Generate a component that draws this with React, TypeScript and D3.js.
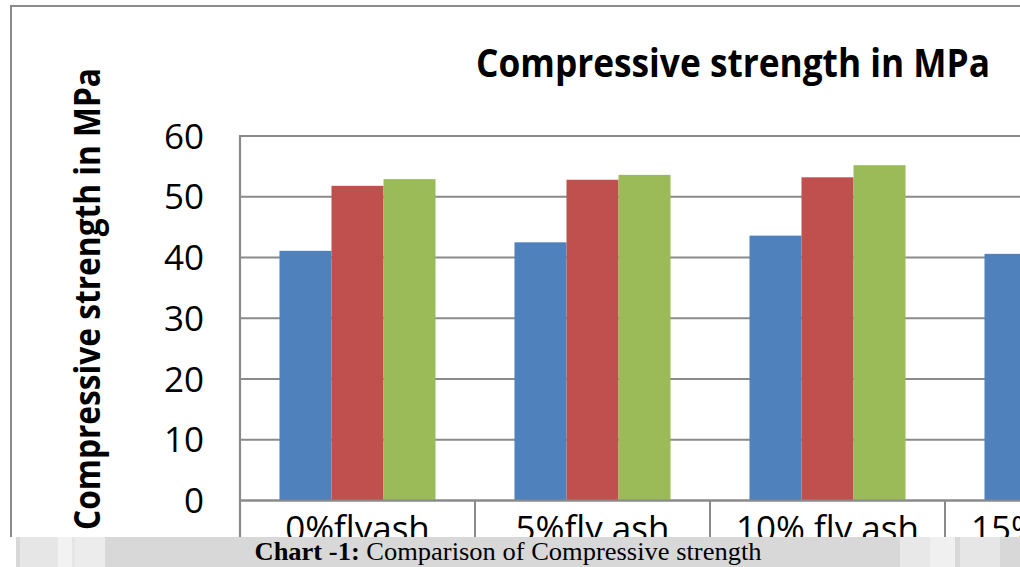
import React from "react";
import * as d3 from "d3";

const categories = ["0%flyash", "5%fly ash", "10% fly ash", "15% fly ash"];
const seriesNames = ["7 days", "14 days", "28 days"];
const series7 = [41.1, 42.5, 43.6, 40.6];
const series14 = [51.8, 52.8, 53.2, 51.0];
const series28 = [52.9, 53.6, 55.2, 52.5];
const yTicks = [0, 10, 20, 30, 40, 50, 60];
const colors = ["#4F81BD", "#C0504D", "#9BBB59"];

const W = 1020;
const H = 567;

export default function App() {
  const seriesValues = [series7, series14, series28];
  const x0 = d3.scaleBand<string>().domain(categories).range([240, 1180]);
  const bw = x0.bandwidth();
  const gw = bw * 0.664;
  const x1 = d3
    .scaleBand<string>()
    .domain(seriesNames)
    .range([(bw - gw) / 2, (bw + gw) / 2]);
  const y = d3.scaleLinear().domain([0, 60]).range([500.5, 136]);
  const grid = "#8a8a8a";
  const sans = "'Open Sans', 'DejaVu Sans', sans-serif";

  return (
    <svg
      width={W}
      height={H}
      style={{ position: "absolute", left: 0, top: 0, display: "block", background: "#fff" }}
    >
      <rect x={0} y={0} width={W} height={H} fill="#fff" />
      {/* outer chart border */}
      <rect x={11} y={6} width={1100} height={560} fill="none" stroke={grid} strokeWidth={2} />
      {/* title */}
      <text
        x={733}
        y={77}
        textAnchor="middle"
        fontFamily={sans}
        fontWeight="bold"
        fontSize={39}
        textLength={514}
        lengthAdjust="spacingAndGlyphs"
        fill="#000"
      >
        Compressive strength in MPa
      </text>
      {/* y axis title */}
      <text
        transform={`translate(100,299) rotate(-90)`}
        textAnchor="middle"
        fontFamily={sans}
        fontWeight="bold"
        fontSize={35}
        textLength={462}
        lengthAdjust="spacingAndGlyphs"
        fill="#000"
      >
        Compressive strength in MPa
      </text>
      {/* gridlines */}
      {yTicks.map((t) => (
        <line key={"g" + t} x1={240} x2={1200} y1={y(t)} y2={y(t)} stroke={grid} strokeWidth={2.2} />
      ))}
      {/* tick labels */}
      {yTicks.map((t) => (
        <text
          key={"t" + t}
          x={204}
          y={y(t) + 12.5}
          textAnchor="end"
          fontFamily={sans}
          fontSize={35}
          fill="#000"
        >
          {t}
        </text>
      ))}
      {/* bars */}
      {categories.map((c, i) => (
        <g key={c} transform={`translate(${x0(c)},0)`}>
          {seriesNames.map((s, j) => (
            <rect
              key={s}
              x={x1(s)}
              y={y(seriesValues[j][i])}
              width={x1.bandwidth()}
              height={y(0) - y(seriesValues[j][i])}
              fill={colors[j]}
            />
          ))}
        </g>
      ))}
      {/* axes */}
      <line x1={240} x2={240} y1={135} y2={540} stroke={grid} strokeWidth={2.2} />
      <line x1={240} x2={1200} y1={y(0)} y2={y(0)} stroke={grid} strokeWidth={2.2} />
      {categories.map((c) => (
        <line
          key={"s" + c}
          x1={(x0(c) as number) + bw}
          x2={(x0(c) as number) + bw}
          y1={y(0)}
          y2={540}
          stroke={grid}
          strokeWidth={2}
        />
      ))}
      {/* category labels */}
      {categories.map((c) => (
        <text
          key={"c" + c}
          x={(x0(c) as number) + bw / 2}
          y={541}
          textAnchor="middle"
          fontFamily={sans}
          fontSize={35}
          fill="#000"
        >
          {c}
        </text>
      ))}
      {/* caption band */}
      <rect x={0} y={537} width={W} height={30} fill="#fff" />
      <rect x={16} y={537} width={1004} height={30} fill="#d8d8d8" />
      <rect x={20} y={537} width={55} height={30} fill="#e6e6e6" />
      <rect x={58} y={537} width={14} height={30} fill="#f2f2f2" />
      <rect x={75} y={537} width={30} height={30} fill="#ececec" />
      <rect x={900} y={537} width={30} height={30} fill="#e8e8e8" />
      <rect x={930} y={537} width={25} height={30} fill="#f0f0f0" />
      <rect x={960} y={537} width={40} height={30} fill="#e6e6e6" />
      <text
        x={508}
        y={560}
        textAnchor="middle"
        fontFamily="'Liberation Serif', 'Times New Roman', serif"
        fontSize={26}
        textLength={507}
        lengthAdjust="spacingAndGlyphs"
        fill="#000"
      >
        <tspan fontWeight="bold">Chart -1:</tspan> Comparison of Compressive strength
      </text>
    </svg>
  );
}
